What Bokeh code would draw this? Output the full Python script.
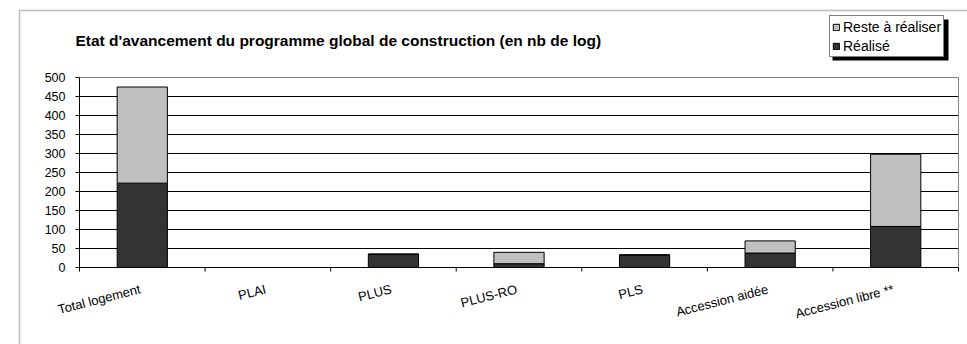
from bokeh.plotting import figure
from bokeh.models import (Range1d, Legend, LegendItem, Label, BoxAnnotation,
                          ColumnDataSource)
from bokeh.core.properties import value
from bokeh.embed import file_html
from bokeh.resources import INLINE

# Programme data (number of dwellings)
categories = ["Total logement", "PLAI", "PLUS", "PLUS-RO", "PLS",
              "Accession aidée", "Accession libre **"]
realise = [222, 0, 35, 10, 33, 38, 108]
reste = [253, 0, 0, 30, 0, 32, 190]
y_ticks = [0, 50, 100, 150, 200, 250, 300, 350, 400, 450, 500]
y_labels = [str(t) for t in y_ticks]

FONT = "Liberation Sans"
DARK = "#333333"
LIGHT = "#c0c0c0"

W, H = 967, 344
# plot area inside the canvas (pixels)
PA_LEFT, PA_RIGHT, PA_TOP, PA_BOTTOM = 79, 958, 77, 267
N = len(categories)
Y_MAX = 500

# the frame spans the whole canvas; ranges are set so the plot area
# (0..N, 0..Y_MAX) lands on the pixel box above
xs = (PA_RIGHT - PA_LEFT) / N
ys = (PA_BOTTOM - PA_TOP) / Y_MAX
x_range = Range1d(-PA_LEFT / xs, N + (W - PA_RIGHT) / xs)
y_range = Range1d(-(H - PA_BOTTOM) / ys, Y_MAX + PA_TOP / ys)

p = figure(width=W, height=H, output_backend="svg", toolbar_location=None,
           x_range=x_range, y_range=y_range, x_axis_type=None, y_axis_type=None,
           min_border=0)
p.grid.visible = False
p.outline_line_color = None
p.background_fill_color = "white"
p.border_fill_color = "white"

centers = [i + 0.5 for i in range(N)]
source = ColumnDataSource(dict(x=centers, realise=realise, reste=reste))

# horizontal gridlines (top one is the grey plot-area edge)
inner = y_ticks[1:-1]
p.segment(x0=[0] * len(inner), x1=[N] * len(inner), y0=inner, y1=inner,
          line_color="black", line_width=1)
p.segment(x0=[0, N], x1=[N, N], y0=[Y_MAX, 0], y1=[Y_MAX, Y_MAX],
          line_color="#808080", line_width=1)

# stacked bars
r = p.vbar_stack(["realise", "reste"], x="x", width=0.4, source=source,
                 color=[DARK, LIGHT], line_color="black", line_width=1)

# y axis: line, outward ticks, labels
tick_len = 4
p.segment(x0=[0], x1=[0], y0=[0], y1=[Y_MAX], line_color="black", line_width=1)
p.segment(x0=[-tick_len / xs] * len(y_ticks), x1=[0] * len(y_ticks),
          y0=y_ticks, y1=y_ticks, line_color="black", line_width=1)
p.text(x=[0] * len(y_ticks), y=y_ticks, text=y_labels, x_offset=-14,
       text_align="right", text_baseline="middle", text_font=value(FONT),
       text_font_size="12.5px", text_color="black")

# x axis: line, ticks at category boundaries, slanted names
bounds = list(range(N + 1))
p.segment(x0=[0], x1=[N], y0=[0], y1=[0], line_color="black", line_width=1)
p.segment(x0=bounds, x1=bounds, y0=[0] * len(bounds),
          y1=[-tick_len / ys] * len(bounds), line_color="black", line_width=1)
p.text(x=centers, y=[0] * N, text=categories, x_offset=-4, y_offset=14,
       angle=0.25, text_align="right", text_baseline="top",
       text_font=value(FONT), text_font_size="13px", text_color="black")

# chart-area border (top and left edges)
p.add_layout(BoxAnnotation(left=19, right=W + 50, top=10, bottom=H + 50,
                           left_units="canvas", right_units="canvas",
                           top_units="canvas", bottom_units="canvas",
                           fill_alpha=0, line_color="#1a1a1a", line_width=1.5))

# title
p.add_layout(Label(x=75, y=40, x_units="canvas", y_units="canvas",
                   text="Etat d'avancement du programme global de construction (en nb de log)",
                   text_font=FONT, text_font_style="bold", text_font_size="15.5px",
                   text_color="black", text_baseline="middle"))

# legend with drop shadow
p.add_layout(BoxAnnotation(left=832, right=948, top=19, bottom=60,
                           left_units="canvas", right_units="canvas",
                           top_units="canvas", bottom_units="canvas",
                           fill_color="black", fill_alpha=1, line_alpha=0))
legend = Legend(items=[LegendItem(label="Reste à réaliser", renderers=[r[1]]),
                       LegendItem(label="Réalisé", renderers=[r[0]])],
                location=(829, H - 57), orientation="vertical",
                label_text_font=FONT, label_text_font_size="14px",
                label_text_color="black", glyph_width=8, glyph_height=8,
                label_height=17, label_standoff=3, spacing=2, padding=2,
                margin=0, border_line_color="black", border_line_width=1,
                background_fill_color="white", background_fill_alpha=1)
p.add_layout(legend)

open("out.html", "w").write(file_html(p, INLINE))
